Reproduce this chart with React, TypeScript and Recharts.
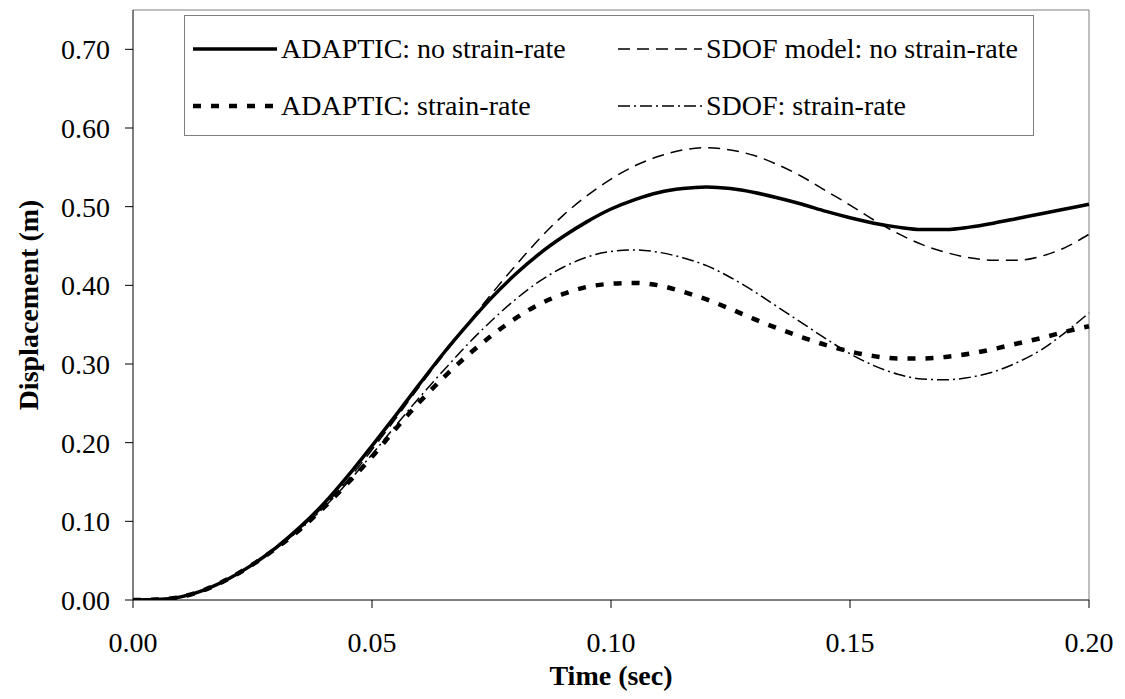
import React from 'react';
import { LineChart, Line, XAxis, YAxis, Legend, Label, ReferenceLine } from 'recharts';

const time = [
  0, 0.005, 0.01, 0.015, 0.02, 0.025, 0.03, 0.035, 0.04, 0.045,
  0.05, 0.055, 0.06, 0.065, 0.07, 0.075, 0.08, 0.085, 0.09, 0.095,
  0.1, 0.105, 0.11, 0.115, 0.12, 0.125, 0.13, 0.135, 0.14, 0.145,
  0.15, 0.155, 0.16, 0.165, 0.17, 0.175, 0.18, 0.185, 0.19, 0.195, 0.2,
];

const adapticNoRate = [
  0, 0.0005, 0.004, 0.013, 0.027, 0.045, 0.067, 0.093, 0.123, 0.158,
  0.196, 0.235, 0.275, 0.314, 0.35, 0.384, 0.414, 0.44, 0.462, 0.481,
  0.497, 0.509, 0.518, 0.523, 0.525, 0.523, 0.518, 0.511, 0.503, 0.494,
  0.486, 0.479, 0.474, 0.471, 0.471, 0.474, 0.479, 0.485, 0.491, 0.497, 0.503,
];

const sdofNoRate = [
  0, 0.0005, 0.004, 0.013, 0.027, 0.045, 0.066, 0.091, 0.12, 0.153,
  0.191, 0.231, 0.272, 0.312, 0.351, 0.389, 0.425, 0.459, 0.489, 0.514,
  0.535, 0.552, 0.564, 0.572, 0.575, 0.572, 0.565, 0.553, 0.538, 0.52,
  0.502, 0.483, 0.466, 0.452, 0.442, 0.435, 0.432, 0.432, 0.437, 0.448, 0.465,
];

const adapticRate = [
  0, 0.0005, 0.004, 0.013, 0.027, 0.045, 0.066, 0.09, 0.118, 0.149,
  0.182, 0.218, 0.252, 0.283, 0.311, 0.336, 0.358, 0.376, 0.389, 0.398,
  0.402, 0.403, 0.4, 0.392, 0.382, 0.37, 0.357, 0.345, 0.334, 0.324,
  0.316, 0.31, 0.307, 0.307, 0.309, 0.313, 0.319, 0.326, 0.333, 0.341, 0.348,
];

const sdofRate = [
  0, 0.0005, 0.004, 0.013, 0.027, 0.045, 0.066, 0.09, 0.118, 0.15,
  0.185, 0.222, 0.258, 0.292, 0.325, 0.355, 0.382, 0.405, 0.423, 0.436,
  0.443, 0.445, 0.442, 0.435, 0.425, 0.41, 0.392, 0.372, 0.352, 0.332,
  0.313, 0.298, 0.287, 0.281, 0.28, 0.283, 0.29, 0.302, 0.318, 0.34, 0.365,
];

const xTicks = [0, 0.05, 0.1, 0.15, 0.2];
const yTicks = [0, 0.1, 0.2, 0.3, 0.4, 0.5, 0.6, 0.7];

const data = time.map((t, i) => ({
  t,
  adapticNoRate: adapticNoRate[i],
  sdofNoRate: sdofNoRate[i],
  adapticRate: adapticRate[i],
  sdofRate: sdofRate[i],
}));

const FONT = '"Liberation Serif", "Times New Roman", serif';

const series = [
  { key: 'adapticNoRate', name: 'ADAPTIC: no strain-rate', width: 3.5, dash: undefined },
  { key: 'sdofNoRate', name: 'SDOF model: no strain-rate', width: 1.5, dash: '12 7' },
  { key: 'adapticRate', name: 'ADAPTIC: strain-rate', width: 4.5, dash: '8 10' },
  { key: 'sdofRate', name: 'SDOF: strain-rate', width: 1.5, dash: '12 4 2 4' },
];

// legend box: row 1 = solid, dashed ; row 2 = dotted, dash-dot
const legendOrder = ['adapticNoRate', 'sdofNoRate', 'adapticRate', 'sdofRate'];

const LegendBox = () => (
  <div
    style={{
      boxSizing: 'border-box',
      width: 850,
      height: 121,
      border: '1px solid #7f7f7f',
      background: '#fff',
      display: 'grid',
      gridTemplateColumns: '425px 1fr',
      gridTemplateRows: '1fr 1fr',
      alignItems: 'center',
      fontFamily: FONT,
      fontSize: 28,
      color: '#000',
      paddingLeft: 8,
      paddingTop: 4,
    }}
  >
    {legendOrder.map((k) => {
      const s = series.find((x) => x.key === k)!;
      return (
        <div key={k} style={{ display: 'flex', alignItems: 'center', whiteSpace: 'nowrap' }}>
          <svg width={86} height={12} style={{ marginRight: 2 }}>
            <line x1={0} y1={6} x2={84} y2={6} stroke="#000" strokeWidth={s.width} strokeDasharray={s.dash} />
          </svg>
          <span>{s.name}</span>
        </div>
      );
    })}
  </div>
);

const YTitle = () => (
  <text
    x={28}
    y={305}
    transform="rotate(-90 28 305)"
    textAnchor="middle"
    dominantBaseline="central"
    fontFamily={FONT}
    fontSize={28}
    fontWeight="bold"
    fill="#000"
  >
    Displacement (m)
  </text>
);

export default function App() {
  return (
    <div style={{ position: 'absolute', left: 0, top: 0 }}>
      <LineChart width={1125} height={699} data={data} margin={{ top: 10, right: 36, bottom: 0, left: 0 }}>
        <XAxis
          dataKey="t"
          type="number"
          domain={[0, 0.2]}
          ticks={xTicks}
          tickFormatter={(v: number) => v.toFixed(2)}
          height={99}
          tickSize={8}
          tickMargin={24}
          stroke="#000"
          tick={{ fill: '#000', fontFamily: FONT, fontSize: 28 }}
        >
          <Label
            value="Time (sec)"
            position="insideBottom"
            offset={14}
            style={{ fontFamily: FONT, fontSize: 28, fontWeight: 'bold', fill: '#000' }}
          />
        </XAxis>
        <YAxis
          type="number"
          domain={[0, 0.75]}
          ticks={yTicks}
          tickFormatter={(v: number) => v.toFixed(2)}
          width={133}
          tickSize={8}
          tickMargin={15}
          stroke="#000"
          allowDataOverflow
          tick={{ fill: '#000', fontFamily: FONT, fontSize: 28 }}
        >
          <Label content={<YTitle />} />
        </YAxis>
        <ReferenceLine y={0.75} stroke="#7f7f7f" strokeWidth={1} />
        <ReferenceLine x={0.2} stroke="#7f7f7f" strokeWidth={1} />
        {series.map((s) => (
          <Line
            key={s.key}
            dataKey={s.key}
            name={s.name}
            type="monotone"
            stroke="#000"
            strokeWidth={s.width}
            strokeDasharray={s.dash}
            dot={false}
            activeDot={false}
            isAnimationActive={false}
          />
        ))}
        <Legend
          layout="vertical"
          align="center"
          verticalAlign="middle"
          content={() => <LegendBox />}
          wrapperStyle={{ left: 184, top: 15, width: 850, height: 121 }}
        />
      </LineChart>
    </div>
  );
}
